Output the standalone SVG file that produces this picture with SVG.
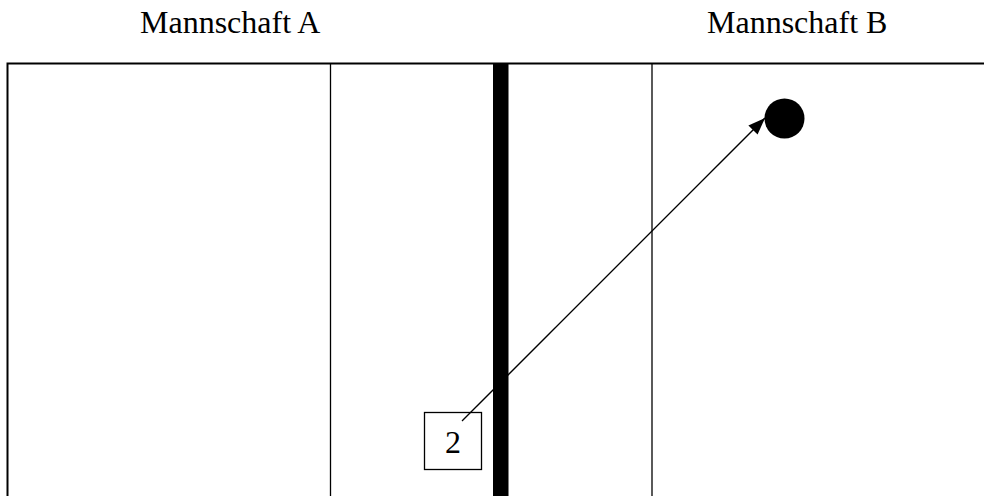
<svg xmlns="http://www.w3.org/2000/svg" width="984" height="496" viewBox="0 0 984 496">
  <style>
    .lbl { font-family: "Liberation Serif", "Times New Roman", serif; font-size: 32px; fill: #000; }
    .line { stroke: #000; fill: none; }
  </style>
  <defs>
    <marker id="head" viewBox="0 0 17 13" refX="17" refY="6.5" markerWidth="17" markerHeight="13" markerUnits="userSpaceOnUse" orient="auto">
      <path d="M0,0 L17,6.5 L0,13 Z" fill="#000"/>
    </marker>
  </defs>
  <rect width="984" height="496" fill="#fff"/>

  <!-- team labels -->
  <text class="lbl" x="140" y="33">Mannschaft A</text>
  <text class="lbl" x="707" y="33">Mannschaft B</text>

  <!-- field outline and zone lines -->
  <g id="field">
    <path class="line" d="M7.5,496 V63.5 H984" stroke-width="2"/>
    <line class="line" x1="330.5" y1="63.5" x2="330.5" y2="496" stroke-width="1.3"/>
    <line class="line" x1="652" y1="63.5" x2="652" y2="496" stroke-width="1.3"/>
    <rect x="493" y="63" width="15.5" height="433" fill="#000"/>
  </g>

  <!-- player 2 -->
  <g id="player2">
    <rect x="424.5" y="412.5" width="57" height="57" fill="#fff" stroke="#000" stroke-width="1.3"/>
    <text class="lbl" x="453" y="453" text-anchor="middle">2</text>
  </g>

  <!-- ball -->
  <g id="ball">
    <circle cx="784.5" cy="118.5" r="20" fill="#000"/>
  </g>

  <!-- pass -->
  <g id="connectors">
    <line class="line" x1="462" y1="421" x2="765" y2="118" stroke-width="1.3" marker-end="url(#head)"/>
  </g>
</svg>
